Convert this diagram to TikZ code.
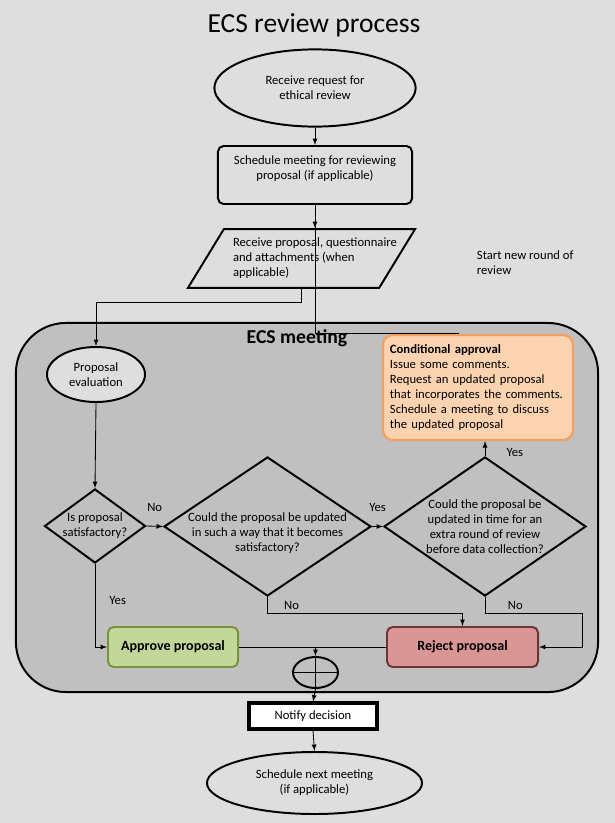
\documentclass[tikz,border=0pt]{standalone}
\usepackage{fontspec}
\setmainfont{Carlito}
\usetikzlibrary{shapes.geometric, arrows, positioning, calc}
\definecolor{bggray}{HTML}{DEDEDE}
\definecolor{meetgray}{HTML}{C0C0C0}
\definecolor{condfill}{HTML}{FBD3B0}
\definecolor{conddraw}{HTML}{F4A060}
\definecolor{okfill}{HTML}{C4D79B}
\definecolor{okdraw}{HTML}{77933C}
\definecolor{nofill}{HTML}{D99694}
\definecolor{nodraw}{HTML}{6B3535}
\tikzset{
  terminal/.style={ellipse,draw,line width=1.4pt,fill=bggray,inner sep=0pt,align=center},
  process/.style={rectangle,rounded corners=4pt,draw,line width=1.4pt,fill=bggray,align=center},
  io/.style={trapezium,trapezium left angle=58.6,trapezium right angle=121.4,trapezium stretches body,inner ysep=20.9pt,draw,line width=1.4pt,fill=bggray},
  decision/.style={diamond,draw,line width=1.4pt,inner sep=0pt},
  meeting/.style={rectangle,rounded corners=1.25cm,draw,line width=1.4pt,fill=meetgray},
  condbox/.style={rectangle,rounded corners=7pt,draw=conddraw,line width=1.6pt,fill=condfill,text width=4.4cm,minimum width=4.75cm,minimum height=2.625cm,align=left},
  outcome/.style={rectangle,rounded corners=4pt,line width=1.4pt,font=\bfseries,minimum height=1cm},
  junction/.style={ellipse,draw,line width=1.4pt,minimum width=1.125cm,minimum height=0.775cm,inner sep=0pt,
    path picture={\draw[line width=0.6pt] (path picture bounding box.north) -- (path picture bounding box.south)
      (path picture bounding box.west) -- (path picture bounding box.east);}},
  flow/.style={-latex,line width=0.6pt},
  link/.style={line width=0.6pt},
  yesno/.style={inner sep=1pt},
}

\begin{document}
\begin{tikzpicture}[x=0.025cm,y=-0.025cm,font=\fontsize{9}{10.7}\selectfont]
  \fill[bggray] (0,0) rectangle (615,823);
  \node[meeting,minimum width=14.55cm,minimum height=9.225cm] (ecs) at (307,507.5) {};
  \node[font=\fontsize{19.6}{23}\selectfont] (title) at (314,25) {ECS review process};

  \node[terminal,minimum width=5.03cm,minimum height=1.93cm] (start) at (315,88) {Receive request for\\ethical review};
  \node[process,minimum width=4.85cm,minimum height=1.45cm] (sched) at (315,175) {Schedule meeting for reviewing\\proposal (if applicable)\\~};
  \node[io,minimum width=5.675cm,
    label={[align=left,xshift=9.6pt]center:Receive proposal, questionnaire\\and attachments (when\\applicable)}] (recv) at (301.5,258.5) {};
  \node[align=left,anchor=west] (newround) at (472,263) {Start new round of\\review};

  \node[font=\fontsize{14}{16}\selectfont\bfseries] (ecstitle) at (297,338) {ECS meeting};
  \node[terminal,minimum width=2.45cm,minimum height=1.375cm] (propeval) at (96,374.5) {Proposal\\evaluation};
  \node[condbox] (condapp) at (478,387.5) {\textbf{Conditional approval}\\Issue some comments.\\Request an updated proposal\\that incorporates the comments.\\Schedule a meeting to discuss\\the updated proposal};

  \node[decision,minimum width=2.525cm,minimum height=1.85cm,
    label={[align=center]center:Is proposal\\satisfactory?}] (d1) at (95,526) {};
  \node[decision,minimum width=5.175cm,minimum height=3.475cm,
    label={[align=center,yshift=-5pt]center:Could the proposal be updated\\in such a way that it becomes\\satisfactory?}] (d2) at (267.5,526.5) {};
  \node[decision,minimum width=5.05cm,minimum height=3.475cm,
    label={[align=center]center:Could the proposal be\\updated in time for an\\extra round of review\\before data collection?}] (d3) at (485,526.5) {};

  \node[outcome,draw=okdraw,fill=okfill,minimum width=3.25cm] (approve) at (173,647) {Approve proposal};
  \node[outcome,draw=nodraw,fill=nofill,minimum width=3.775cm] (reject) at (462.5,647) {Reject proposal};
  \node[junction] (junc) at (315.5,672.5) {};
  \node[rectangle,draw,line width=2.2pt,fill=white,minimum width=3.2cm,minimum height=0.65cm] (notify) at (313,716) {Notify decision};
  \node[terminal,minimum width=5.375cm,minimum height=1.55cm] (finish) at (314.5,783) {Schedule next meeting\\(if applicable)};

  % main flow
  \draw[flow] (start) -- (sched);
  \draw[flow] (sched.south) -- (sched.south |- recv.north);
  \draw[flow] (recv.south) -- ++(0,14) -| (propeval.north);
  \draw[link] ([xshift=-0.475cm]condapp.north) -| (sched.south);
  \draw[flow] (propeval.south) -- (d1.north);
  \draw[flow] (d1.east) -- node[yesno,above=9pt] {No} (d2.west);
  \draw[flow] (d2.east) -- node[yesno,above=9pt] {Yes} (d3.west);
  \draw[flow] (d3.north) -- node[yesno,near start,right=14pt] {Yes} (d3.north |- condapp.south);
  \draw[flow] (d1.south) |- node[yesno,pos=0.22,right=9pt] {Yes} (approve.west);
  \draw[flow] (d2.south) -- node[yesno,right=10.5pt] {No} ++(0,16) -| (reject.north);
  \draw[flow] (d3.south) -- node[yesno,right=15pt] {No} ++(0,16) -| ([xshift=1.075cm]reject.east) -- (reject.east);
  \draw[link] (approve.east) -- (reject.west);
  \draw[flow] (junc.north |- approve.east) -- (junc.north);
  \draw[flow] (junc.south) -- (notify.north);
  \draw[flow] (notify.south) -- (finish.north);
\end{tikzpicture}
\end{document}
